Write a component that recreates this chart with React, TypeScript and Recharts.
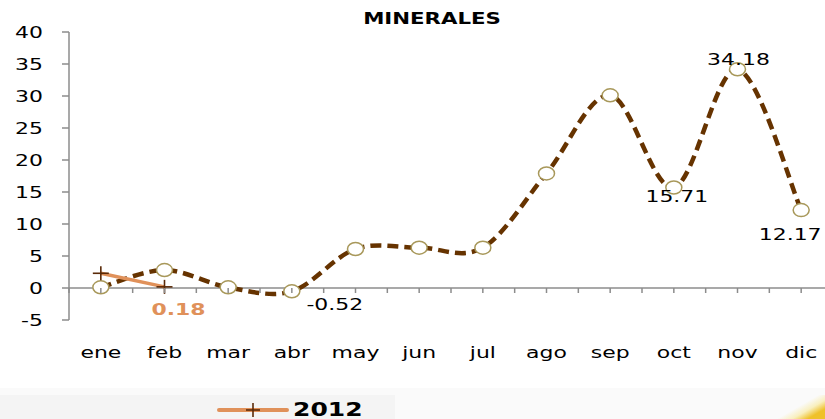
import React from "react";
import {
  LineChart,
  Line,
  XAxis,
  YAxis,
  ReferenceLine,
  LabelList,
} from "recharts";

const months = ["ene", "feb", "mar", "abr", "may", "jun", "jul", "ago", "sep", "oct", "nov", "dic"];
const values2013 = [0.1, 2.8, 0.1, -0.52, 6.1, 6.3, 6.3, 17.9, 30.1, 15.71, 34.18, 12.17];
const values2012 = [2.3, 0.18, null, null, null, null, null, null, null, null, null, null];
const yTicks = [-5, 0, 5, 10, 15, 20, 25, 30, 35, 40];
const labelled2013 = ["abr", "oct", "nov", "dic"];
const labelled2012 = ["feb"];

const data = months.map((m, i) => ({ month: m, v2013: values2013[i], v2012: values2012[i] }));

// layout
const CHART_W = 840;
const CHART_H = 419;
const TOP = 32;
const LEFT = 69;
const PLOT_W = 764;
const PLOT_H = 288;
const BAND = PLOT_W / months.length;
const ZERO_Y = TOP + (40 / 45) * PLOT_H;
const LABEL_Y = 352;
const SX = 1.33;

const AXIS_GRAY = "#8c8c8c";
const BROWN = "#663300";
const ORANGE = "#E0915A";
const MARKER = "#A8985A";
const FONT = "'DejaVu Sans', Verdana, sans-serif";

// Catmull-Rom style smoothing, close to Excel's smoothed line
function smoothCurve(context: any) {
  let pts: number[][] = [];
  return {
    areaStart() {},
    areaEnd() {},
    lineStart() {
      pts = [];
    },
    point(x: number, y: number) {
      pts.push([+x, +y]);
    },
    lineEnd() {
      const n = pts.length;
      if (!n) return;
      context.moveTo(pts[0][0], pts[0][1]);
      for (let i = 0; i < n - 1; i++) {
        const p0 = pts[Math.max(i - 1, 0)];
        const p1 = pts[i];
        const p2 = pts[i + 1];
        const p3 = pts[Math.min(i + 2, n - 1)];
        context.bezierCurveTo(
          p1[0] + (p2[0] - p0[0]) / 6,
          p1[1] + (p2[1] - p0[1]) / 6,
          p2[0] - (p3[0] - p1[0]) / 6,
          p2[1] - (p3[1] - p1[1]) / 6,
          p2[0],
          p2[1]
        );
      }
    },
  };
}

const XTick = (props: any) => {
  const { x, payload } = props;
  const half = BAND / 2;
  const isLast = payload.value === months[months.length - 1];
  const tick = (tx: number) => (
    <line x1={tx} x2={tx} y1={ZERO_Y} y2={ZERO_Y + 5} stroke={AXIS_GRAY} strokeWidth={1.5} />
  );
  return (
    <g>
      {tick(x)}
      {tick(x - half)}
      {isLast && tick(x + half)}
      <text
        transform={`translate(${x} ${LABEL_Y}) scale(${SX} 1)`}
        textAnchor="middle"
        dominantBaseline="central"
        fontFamily={FONT}
        fontSize={16.5}
        fill="#000"
      >
        {payload.value}
      </text>
    </g>
  );
};

const YTick = (props: any) => {
  const { x, y, payload } = props;
  return (
    <text
      transform={`translate(${x} ${y}) scale(${SX} 1)`}
      textAnchor="end"
      dominantBaseline="central"
      fontFamily={FONT}
      fontSize={16.5}
      fill="#000"
    >
      {payload.value}
    </text>
  );
};

const Ring = (props: any) => {
  const { cx, cy } = props;
  if (cx == null || cy == null) return null;
  return <ellipse cx={cx} cy={cy} rx={8} ry={6.5} fill="#fff" stroke={MARKER} strokeWidth={1.5} />;
};

const Plus = (props: any) => {
  const { cx, cy, value } = props;
  if (cx == null || cy == null || value == null) return null;
  return (
    <g stroke="#5a2a08" strokeWidth={1.6}>
      <line x1={cx - 8} x2={cx + 8} y1={cy} y2={cy} />
      <line x1={cx} x2={cx} y1={cy - 7} y2={cy + 7} />
    </g>
  );
};

const labelShift: Record<string, [number, number]> = {
  abr: [43, 13],
  oct: [3, 9],
  nov: [1, -10],
  dic: [-11, 24],
  feb: [14, 23],
};

const makeLabel = (shown: string[], color: string, bold: boolean) => (props: any) => {
  const { x, y, value, index } = props;
  const m = months[index];
  if (!shown.includes(m) || value == null) return null;
  const [dx, dy] = labelShift[m];
  return (
    <text
      transform={`translate(${x + dx} ${y + dy}) scale(${SX} 1)`}
      textAnchor="middle"
      dominantBaseline="central"
      fontFamily={FONT}
      fontSize={16.5}
      fontWeight={bold ? 700 : 400}
      fill={color}
    >
      {value}
    </text>
  );
};

export default function App() {
  return (
    <div
      style={{
        position: "absolute",
        left: 0,
        top: 0,
        width: 825,
        height: 419,
        overflow: "hidden",
        background: "#fff",
      }}
    >
      <div style={{ position: "absolute", left: 0, top: 388, width: 825, height: 31, background: "#fafafa" }} />
      <div style={{ position: "absolute", left: 0, top: 395, width: 395, height: 24, background: "#f4f4f4" }} />
      <div
        style={{
          position: "absolute",
          left: 770,
          top: 395,
          width: 55,
          height: 24,
          background:
            "linear-gradient(150deg, rgba(255,255,255,0) 50%, rgba(248,232,150,0.6) 66%, #EFC12A 82%)",
        }}
      />
      <svg style={{ position: "absolute", left: 0, top: 0 }} width={825} height={40}>
        <text
          transform={`translate(432 19) scale(1.42 1)`}
          textAnchor="middle"
          dominantBaseline="central"
          fontFamily={FONT}
          fontWeight={700}
          fontSize={15}
          fill="#000"
        >
          MINERALES
        </text>
      </svg>
      <div style={{ position: "absolute", left: 0, top: 0 }}>
        <LineChart
          width={CHART_W}
          height={CHART_H}
          data={data}
          margin={{ top: TOP, right: CHART_W - LEFT - PLOT_W, bottom: CHART_H - TOP - PLOT_H - 40, left: 0 }}
        >
          <XAxis
            dataKey="month"
            axisLine={false}
            tickLine={false}
            tickSize={0}
            tickMargin={0}
            interval={0}
            height={40}
            padding={{ left: BAND / 2, right: BAND / 2 }}
            tick={<XTick />}
          />
          <YAxis
            width={LEFT}
            domain={[-5, 40]}
            ticks={yTicks}
            interval={0}
            axisLine={{ stroke: AXIS_GRAY, strokeWidth: 1.5 }}
            tickLine={{ stroke: AXIS_GRAY, strokeWidth: 1.5 }}
            tickSize={7}
            tickMargin={19}
            tick={<YTick />}
          />
          <ReferenceLine y={0} stroke={AXIS_GRAY} strokeWidth={1.5} />
          <Line
            dataKey="v2013"
            type={smoothCurve as any}
            stroke={BROWN}
            strokeWidth={4.5}
            strokeDasharray="11 6"
            dot={<Ring />}
            activeDot={false}
            isAnimationActive={false}
          >
            <LabelList dataKey="v2013" content={makeLabel(labelled2013, "#000", false)} />
          </Line>
          <Line
            dataKey="v2012"
            type="linear"
            stroke={ORANGE}
            strokeWidth={3.5}
            dot={<Plus />}
            activeDot={false}
            connectNulls={false}
            isAnimationActive={false}
          >
            <LabelList dataKey="v2012" content={makeLabel(labelled2012, ORANGE, true)} />
          </Line>
        </LineChart>
      </div>
      <svg style={{ position: "absolute", left: 0, top: 395 }} width={400} height={24}>
        <line x1={219} x2={287} y1={15} y2={15} stroke={ORANGE} strokeWidth={4} strokeLinecap="round" />
        <line x1={246} x2={260} y1={15} y2={15} stroke="#5a2a08" strokeWidth={1.6} />
        <line x1={253} x2={253} y1={8} y2={22} stroke="#5a2a08" strokeWidth={1.6} />
        <text
          transform="translate(293 14) scale(1.25 1)"
          dominantBaseline="central"
          fontFamily={FONT}
          fontWeight={700}
          fontSize={20}
          fill="#000"
        >
          2012
        </text>
      </svg>
    </div>
  );
}
